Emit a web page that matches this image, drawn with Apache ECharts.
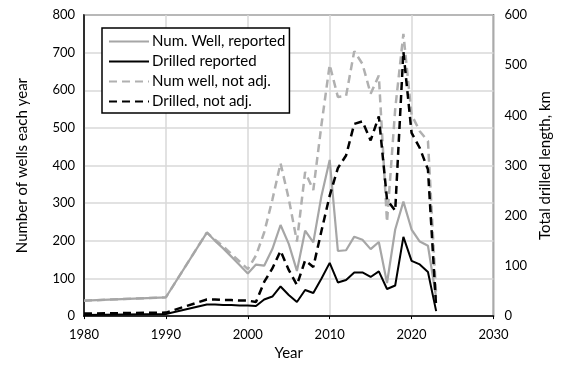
<!DOCTYPE html>
<html><head><meta charset="utf-8">
<script src="https://cdn.jsdelivr.net/npm/echarts@6/dist/echarts.min.js"></script>
<style>html,body{margin:0;padding:0;background:#fff}#c{width:561px;height:366px}</style>
</head><body><div id="c"></div>
<script>
const years = [1980,1990,1995,1996,1997,1998,1999,2000,2001,2002,2003,2004,2005,2006,2007,2008,2009,2010,2011,2012,2013,2014,2015,2016,2017,2018,2019,2020,2021,2022,2023];
const numWellReported = [41,50,222,200,180,158,136,113,137,134,178,242,192,120,227,196,320,415,173,175,211,203,178,197,88,230,304,230,198,187,49];
const drilledReported = [2,4,23,23,22,22,21,21,20,33,39,59,42,28,52,46,75,106,67,72,87,87,78,89,54,61,158,110,103,88,10];
const numWellNotAdj = [41,50,222,203,185,165,145,125,161,222,309,406,312,198,383,335,509,668,582,585,704,670,591,639,250,550,750,535,491,465,55];
const drilledNotAdj = [5,7,33,33,32,32,31,31,28,68,95,130,92,62,111,98,170,240,295,320,383,388,350,398,232,210,527,365,335,292,18];
const seriesNames = ['Num. Well, reported','Drilled reported','Num well, not adj.','Drilled, not adj.'];
const xTicks = {min:1980,max:2030,interval:10};
const leftTicks = {min:0,max:800,interval:100};
const rightTicks = {min:0,max:600,interval:100};

const pair = arr => years.map((y,i)=>[y,arr[i]]);
const FONT = 'Lato';
const chart = echarts.init(document.getElementById('c'));
chart.setOption({
  animation:false,
  textStyle:{fontFamily:FONT},
  grid:{left:84,right:62,top:15,bottom:44,show:true,borderColor:'#222',borderWidth:1.5,backgroundColor:'transparent'},
  legend:{
    orient:'vertical',left:102,top:28,
    data:seriesNames,
    itemWidth:40,itemHeight:12,itemGap:5,
    itemStyle:{opacity:0},
    borderColor:'#000',borderWidth:1.5,padding:[6,4,4,6],
    backgroundColor:'#fff',
    textStyle:{fontFamily:FONT,fontSize:15,color:'#000',padding:[0,0,0,-2]}
  },
  xAxis:{
    type:'value',min:xTicks.min,max:xTicks.max,interval:xTicks.interval,
    name:'Year',nameLocation:'middle',nameGap:27,
    nameTextStyle:{fontFamily:FONT,fontSize:15,color:'#000'},
    axisLine:{lineStyle:{color:'#000',width:1.5}},
    axisTick:{show:true,length:3,lineStyle:{color:'#000'}},
    axisLabel:{fontFamily:FONT,fontSize:13,color:'#000',margin:12,formatter:v=>String(v)},
    splitLine:{show:true,lineStyle:{color:'#d9d9d9',width:1.5}}
  },
  yAxis:[{
    type:'value',min:leftTicks.min,max:leftTicks.max,interval:leftTicks.interval,
    name:'Number of wells each year',nameLocation:'middle',nameGap:54,
    nameTextStyle:{fontFamily:FONT,fontSize:15,color:'#000'},
    axisLine:{show:true,lineStyle:{color:'#000',width:1.5}},
    axisTick:{show:false},
    axisLabel:{fontFamily:FONT,fontSize:13,color:'#000',margin:9},
    splitLine:{show:true,lineStyle:{color:'#d9d9d9',width:1.5}}
  },{
    type:'value',min:rightTicks.min,max:rightTicks.max,interval:rightTicks.interval,
    name:'Total drilled length, km',nameLocation:'middle',nameGap:38,
    nameTextStyle:{fontFamily:FONT,fontSize:15,color:'#000'},
    axisLine:{show:false},
    axisTick:{show:false},
    axisLabel:{fontFamily:FONT,fontSize:13,color:'#000',margin:11},
    splitLine:{show:false}
  }],
  series:[
    {name:seriesNames[2],type:'line',yAxisIndex:0,data:pair(numWellNotAdj),symbol:'none',z:2,
      lineStyle:{color:'#b0b0b0',width:2.5,type:[8,5]},itemStyle:{color:'#b0b0b0'}},
    {name:seriesNames[0],type:'line',yAxisIndex:0,data:pair(numWellReported),symbol:'none',z:3,
      lineStyle:{color:'#a6a6a6',width:2.2},itemStyle:{color:'#a6a6a6'}},
    {name:seriesNames[3],type:'line',yAxisIndex:1,data:pair(drilledNotAdj),symbol:'none',z:4,
      lineStyle:{color:'#000',width:2.5,type:[8,5]},itemStyle:{color:'#000'}},
    {name:seriesNames[1],type:'line',yAxisIndex:1,data:pair(drilledReported),symbol:'none',z:5,
      lineStyle:{color:'#000',width:2},itemStyle:{color:'#000'}}
  ]
});
</script></body></html>
